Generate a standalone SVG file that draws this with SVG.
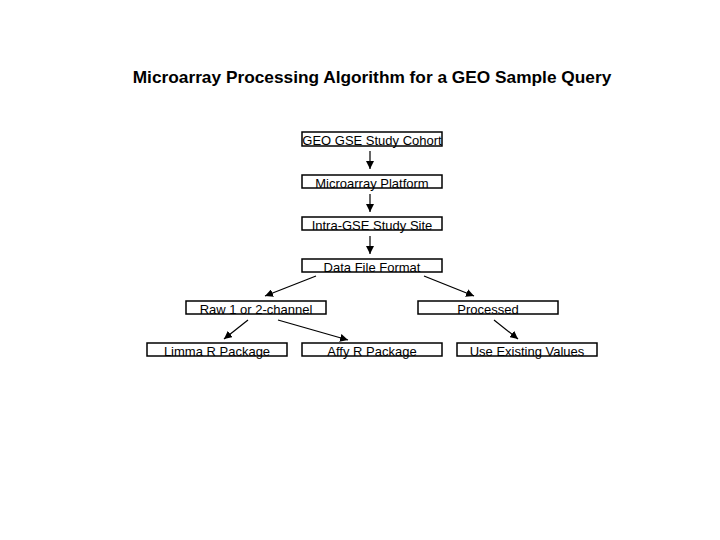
<svg xmlns="http://www.w3.org/2000/svg" width="720" height="540" viewBox="0 0 720 540">
<style>
.box{fill:#fff;stroke:#000;stroke-width:1.5}
.lbl{font-family:"Liberation Sans",Arial,sans-serif;font-size:13px;fill:#000;text-anchor:middle}
.title{font-family:"Liberation Sans",Arial,sans-serif;font-size:17.3px;font-weight:bold;fill:#000;text-anchor:middle}
.conn line{stroke:#000;stroke-width:1.2;marker-end:url(#ah)}
</style>
<defs>
<marker id="ah" viewBox="0 0 10 10" refX="10" refY="5" markerWidth="8" markerHeight="8" markerUnits="userSpaceOnUse" orient="auto">
<path d="M0,0L10,5L0,10z" fill="#000"/>
</marker>
</defs>
<rect width="720" height="540" fill="#fff"/>
<text class="title" x="372" y="83">Microarray Processing Algorithm for a GEO Sample Query</text>
<g id="n1"><rect class="box" x="302" y="132" width="140" height="14"/><text class="lbl" x="372" y="145">GEO GSE Study Cohort</text></g>
<g id="n2"><rect class="box" x="302" y="175" width="140" height="13"/><text class="lbl" x="372" y="187.5">Microarray Platform</text></g>
<g id="n3"><rect class="box" x="302" y="217" width="140" height="13"/><text class="lbl" x="372" y="229.5">Intra-GSE Study Site</text></g>
<g id="n4"><rect class="box" x="302" y="259" width="140" height="13"/><text class="lbl" x="372" y="271.5">Data File Format</text></g>
<g id="n5"><rect class="box" x="186" y="301" width="140" height="13"/><text class="lbl" x="256" y="313.5">Raw 1 or 2-channel</text></g>
<g id="n6"><rect class="box" x="418" y="301" width="140" height="13"/><text class="lbl" x="488" y="313.5">Processed</text></g>
<g id="n7"><rect class="box" x="147" y="343" width="140" height="13"/><text class="lbl" x="217" y="355.5">Limma R Package</text></g>
<g id="n8"><rect class="box" x="302" y="343" width="140" height="13"/><text class="lbl" x="372" y="355.5">Affy R Package</text></g>
<g id="n9"><rect class="box" x="457" y="343" width="140" height="13"/><text class="lbl" x="527" y="355.5">Use Existing Values</text></g>
<g class="conn" id="connectors">
<line x1="370" y1="151" x2="370" y2="169"/>
<line x1="370" y1="194" x2="370" y2="212"/>
<line x1="370" y1="236" x2="370" y2="254"/>
<line x1="316" y1="276" x2="265" y2="296"/>
<line x1="424" y1="276" x2="474" y2="296"/>
<line x1="248" y1="320" x2="224" y2="339"/>
<line x1="278" y1="320" x2="348" y2="340"/>
<line x1="494" y1="320" x2="518" y2="339"/>
</g>
</svg>
